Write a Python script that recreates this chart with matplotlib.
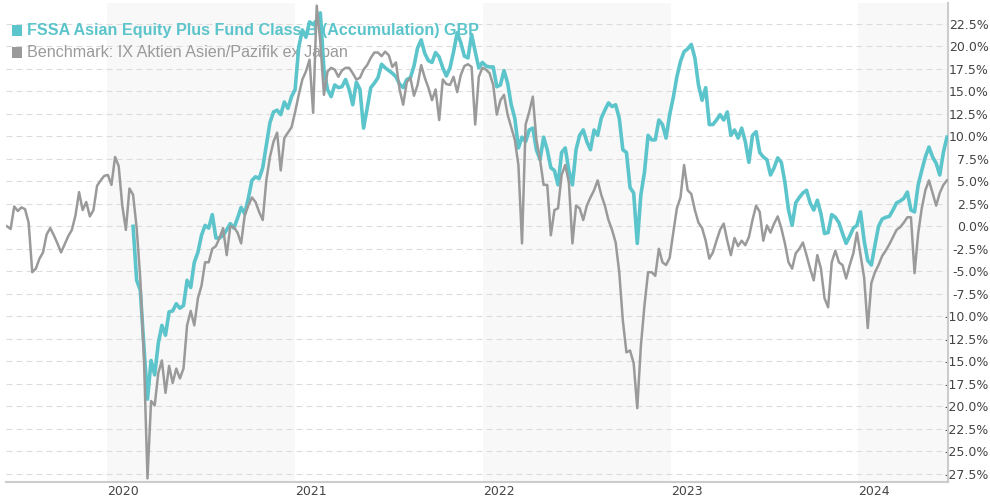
import matplotlib
matplotlib.use("Agg")
import matplotlib.pyplot as plt
import matplotlib.patches as mpatches
import pandas as pd
from datetime import date

plt.rcParams["lines.scale_dashes"] = False

# ---------------- data ----------------
bench_start = "2019-06-21"
fund_start = "2020-02-21"

bench_values = [
    0.0, -0.3, 2.2, 1.7, 2.1, 1.9, 0.4, -5.1, -4.7, -3.6,
    -2.9, -0.9, -0.2, -1.0, -1.9, -2.9, -2.0, -1.1, -0.4, 1.2,
    3.8, 1.8, 2.7, 1.1, 1.8, 4.5, 5.1, 5.6, 5.7, 4.6,
    7.7, 6.7, 2.3, -0.4, 4.2, 3.5, -0.2, -5.8, -14.4, -28.0,
    -19.4, -19.9, -16.3, -14.9, -18.5, -15.5, -17.4, -15.8, -16.9, -15.8,
    -11.0, -9.4, -11.0, -8.0, -6.6, -4.0, -4.0, -2.5, -2.2, -1.3,
    -0.2, -3.2, 0.0, -0.1, -0.7, -1.9, 1.2, 2.3, 3.2, 2.7,
    1.6, 0.7, 5.1, 7.7, 9.4, 10.4, 6.2, 9.8, 10.4, 11.0,
    12.7, 14.6, 16.3, 17.2, 18.5, 12.6, 24.5, 20.4, 14.6, 17.2,
    17.6, 17.4, 16.6, 17.3, 17.6, 17.6, 17.0, 16.3, 16.5, 17.4,
    17.9, 18.7, 19.3, 19.3, 18.9, 19.4, 19.0, 17.7, 18.2, 15.2,
    13.5, 16.0, 16.5, 14.5, 15.7, 17.9, 16.5, 15.4, 14.0, 15.2,
    11.8, 16.3, 15.8, 15.7, 16.6, 14.9, 16.8, 17.8, 18.0, 17.7,
    11.3, 16.6, 17.6, 17.4, 17.0, 15.7, 12.4, 14.0, 14.6, 12.4,
    11.0, 9.6, 6.8, -1.9, 11.3, 12.7, 14.4, 9.6, 7.4, 4.6,
    4.6, -1.0, 1.8, 2.0, 5.7, 6.8, 4.9, -1.9, 2.3, 2.0,
    0.7, 2.3, 3.2, 4.0, 5.1, 3.5, 2.3, 0.7, -0.4, -1.8,
    -5.1, -10.5, -14.0, -13.8, -15.2, -20.2, -13.3, -8.8, -5.1, -5.1,
    -5.5, -2.5, -4.0, -4.3, -3.5, -0.7, 2.0, 3.2, 6.8, 4.0,
    3.6, 1.8, 0.4, -0.2, -1.6, -3.6, -2.9, -1.6, -0.4, 0.3,
    -1.6, -3.2, -1.3, -2.2, -1.6, -2.1, -1.2, 0.7, 2.3, 1.6,
    -1.6, 0.1, -0.7, 0.3, 1.1, -0.2, -1.9, -4.0, -4.7, -3.0,
    -2.5, -1.8, -3.2, -4.7, -6.0, -3.2, -4.7, -8.0, -9.0, -4.0,
    -2.7, -4.0, -4.3, -5.8, -4.3, -3.0, -0.7, -3.2, -5.7, -11.3,
    -6.3, -5.1, -4.3, -3.3, -2.7, -2.0, -1.2, -0.4, -0.1, 0.4,
    1.0, 1.0, -5.2, -0.8, 2.0, 4.0, 5.1, 3.7, 2.3, 3.7,
    4.6, 5.1,
]

fund_values = [
    0.0, -6.0, -7.1, -13.3, -19.2,
    -14.9, -16.5, -13.0, -11.0, -12.1, -9.5, -9.4, -8.6, -9.1, -8.8,
    -6.0, -6.8, -4.0, -2.9, -1.0, 0.1, -0.2, 1.3, -1.3, -1.3,
    -1.0, -0.4, 0.3, -0.2, 0.9, 2.1, 1.4, 3.1, 5.1, 5.5,
    5.3, 6.5, 9.0, 11.5, 12.7, 12.9, 12.4, 13.8, 13.1, 14.4,
    15.2, 19.9, 21.8, 21.0, 22.7, 22.4, 22.9, 23.7, 17.4, 15.2,
    14.4, 15.7, 15.4, 15.5, 16.3, 15.2, 13.5, 16.0, 15.2, 10.9,
    13.1, 15.4, 15.9, 16.5, 18.0, 17.6, 17.3, 17.0, 16.6, 15.8,
    15.4, 16.3, 16.5, 17.8, 19.8, 20.7, 19.2, 18.4, 18.2, 19.3,
    18.8, 17.6, 16.7, 17.6, 19.4, 21.5, 20.4, 18.9, 18.7, 21.3,
    19.4, 17.6, 18.2, 17.8, 17.7, 17.7, 15.5, 15.7, 17.3, 15.9,
    13.5, 12.0, 8.7, 9.9, 9.4, 10.7, 10.9, 8.5, 7.4, 9.9,
    8.5, 6.5, 6.2, 4.6, 8.2, 8.7, 6.2, 4.6, 8.5, 10.1,
    10.7, 9.4, 8.5, 10.7, 10.1, 12.0, 12.9, 13.7, 13.3, 13.5,
    12.0, 8.5, 8.2, 4.3, 3.7, -1.9, 3.5, 6.0, 10.1, 9.6,
    9.6, 11.8, 11.3, 9.8, 12.4, 14.3, 16.6, 18.3, 19.4, 19.7,
    20.2, 18.7, 15.7, 14.0, 15.4, 11.3, 11.3, 11.8, 12.4, 11.8,
    12.7, 10.1, 10.7, 9.8, 10.9, 9.4, 7.1, 10.1, 10.5, 8.2,
    7.7, 7.4, 5.7, 6.5, 7.6, 7.1, 4.9, 1.8, 0.1, 2.6,
    3.2, 3.7, 4.0, 2.6, 1.8, 2.9, 1.4, -0.8, -0.7, 1.3,
    1.0, 0.4, -0.8, -1.9, -1.1, -0.2, 0.1, 1.6, -1.6, -3.8,
    -4.3, -2.1, 0.0, 0.8, 1.0, 1.1, 1.8, 2.6, 2.8, 3.1,
    3.8, 1.8, 1.6, 4.6, 6.2, 7.7, 8.8, 7.7, 7.0, 5.7,
    8.2, 9.9,
]

fund_name = "FSSA Asian Equity Plus Fund Class B (Accumulation) GBP"
bench_name = "Benchmark: IX Aktien Asien/Pazifik ex Japan"
y_ticks = [22.5, 20.0, 17.5, 15.0, 12.5, 10.0, 7.5, 5.0, 2.5, 0.0,
           -2.5, -5.0, -7.5, -10.0, -12.5, -15.0, -17.5, -20.0, -22.5, -25.0, -27.5]
year_labels = [2020, 2021, 2022, 2023, 2024]
shaded_years = [2020, 2022, 2024]

FUND_COLOR = "#5cc4cb"
BENCH_COLOR = "#9a9a9a"

bench_dates = pd.date_range(bench_start, periods=len(bench_values), freq="7D")
fund_dates = pd.date_range(fund_start, periods=len(fund_values), freq="7D")

# ---------------- figure ----------------
W, H = 990, 500
fig = plt.figure(figsize=(W / 100, H / 100), dpi=100)
ax = fig.add_axes([6 / W, 18 / H, 942 / W, 479 / H])

x_min = pd.Timestamp("2019-06-19")
x_max = pd.Timestamp("2024-06-23")
ax.set_xlim(x_min, x_max)
ax.set_ylim(-28.4, 24.8)

for yr in shaded_years:
    ax.axvspan(pd.Timestamp(date(yr, 1, 1)), pd.Timestamp(date(yr + 1, 1, 1)),
               color="#f8f8f8", zorder=0, lw=0)

for t in y_ticks:
    ax.axhline(t, color="#dcdcdc", lw=0.8, linestyle=(0, (4.3, 2.9)), zorder=1)

ax.plot(fund_dates, fund_values, color=FUND_COLOR, lw=2.6, zorder=4,
        solid_joinstyle="round")
ax.plot(bench_dates, bench_values, color=BENCH_COLOR, lw=1.8, zorder=5,
        solid_joinstyle="round")

# spines
for s in ["top", "left"]:
    ax.spines[s].set_visible(False)
for s in ["right", "bottom"]:
    ax.spines[s].set_color("#cccccc")
    ax.spines[s].set_linewidth(1.5)
ax.set_facecolor("white")

# y ticks on right
ax.yaxis.tick_right()
ax.set_yticks(y_ticks)
ax.set_yticklabels([f"{t:.1f}%" for t in y_ticks])
for lab in ax.get_yticklabels():
    lab.set_horizontalalignment("right")
    lab.set_fontfamily("DejaVu Sans")
ax.tick_params(axis="y", length=0, pad=29.3, labelsize=9, labelcolor="#444444")

# x ticks
ax.set_xticks([pd.Timestamp(date(y, 1, 1)) for y in year_labels])
ax.set_xticklabels([str(y) for y in year_labels])
for lab in ax.get_xticklabels():
    lab.set_horizontalalignment("left")
ax.tick_params(axis="x", length=0, pad=2.5, labelsize=9, labelcolor="#444444")

# legend (behind the lines)
def px(x, y):
    return x / W, 1 - y / H

for (name, color, weight, ycen) in [(fund_name, FUND_COLOR, "bold", 30.5),
                                     (bench_name, BENCH_COLOR, "normal", 52.5)]:
    rx, ry = px(12, ycen + 5)
    ax.add_patch(mpatches.Rectangle((rx, ry), 10 / W, 10 / H, transform=fig.transFigure,
                                    facecolor=color, edgecolor="none", zorder=2,
                                    clip_on=False))
    tx, ty = px(27, ycen)
    ax.text(tx, ty, name, transform=fig.transFigure, ha="left", va="center",
            fontsize=11.6, fontweight=weight, color=color,
            family="Liberation Sans", zorder=2)

fig.savefig("out.png", dpi=100, facecolor="white")
